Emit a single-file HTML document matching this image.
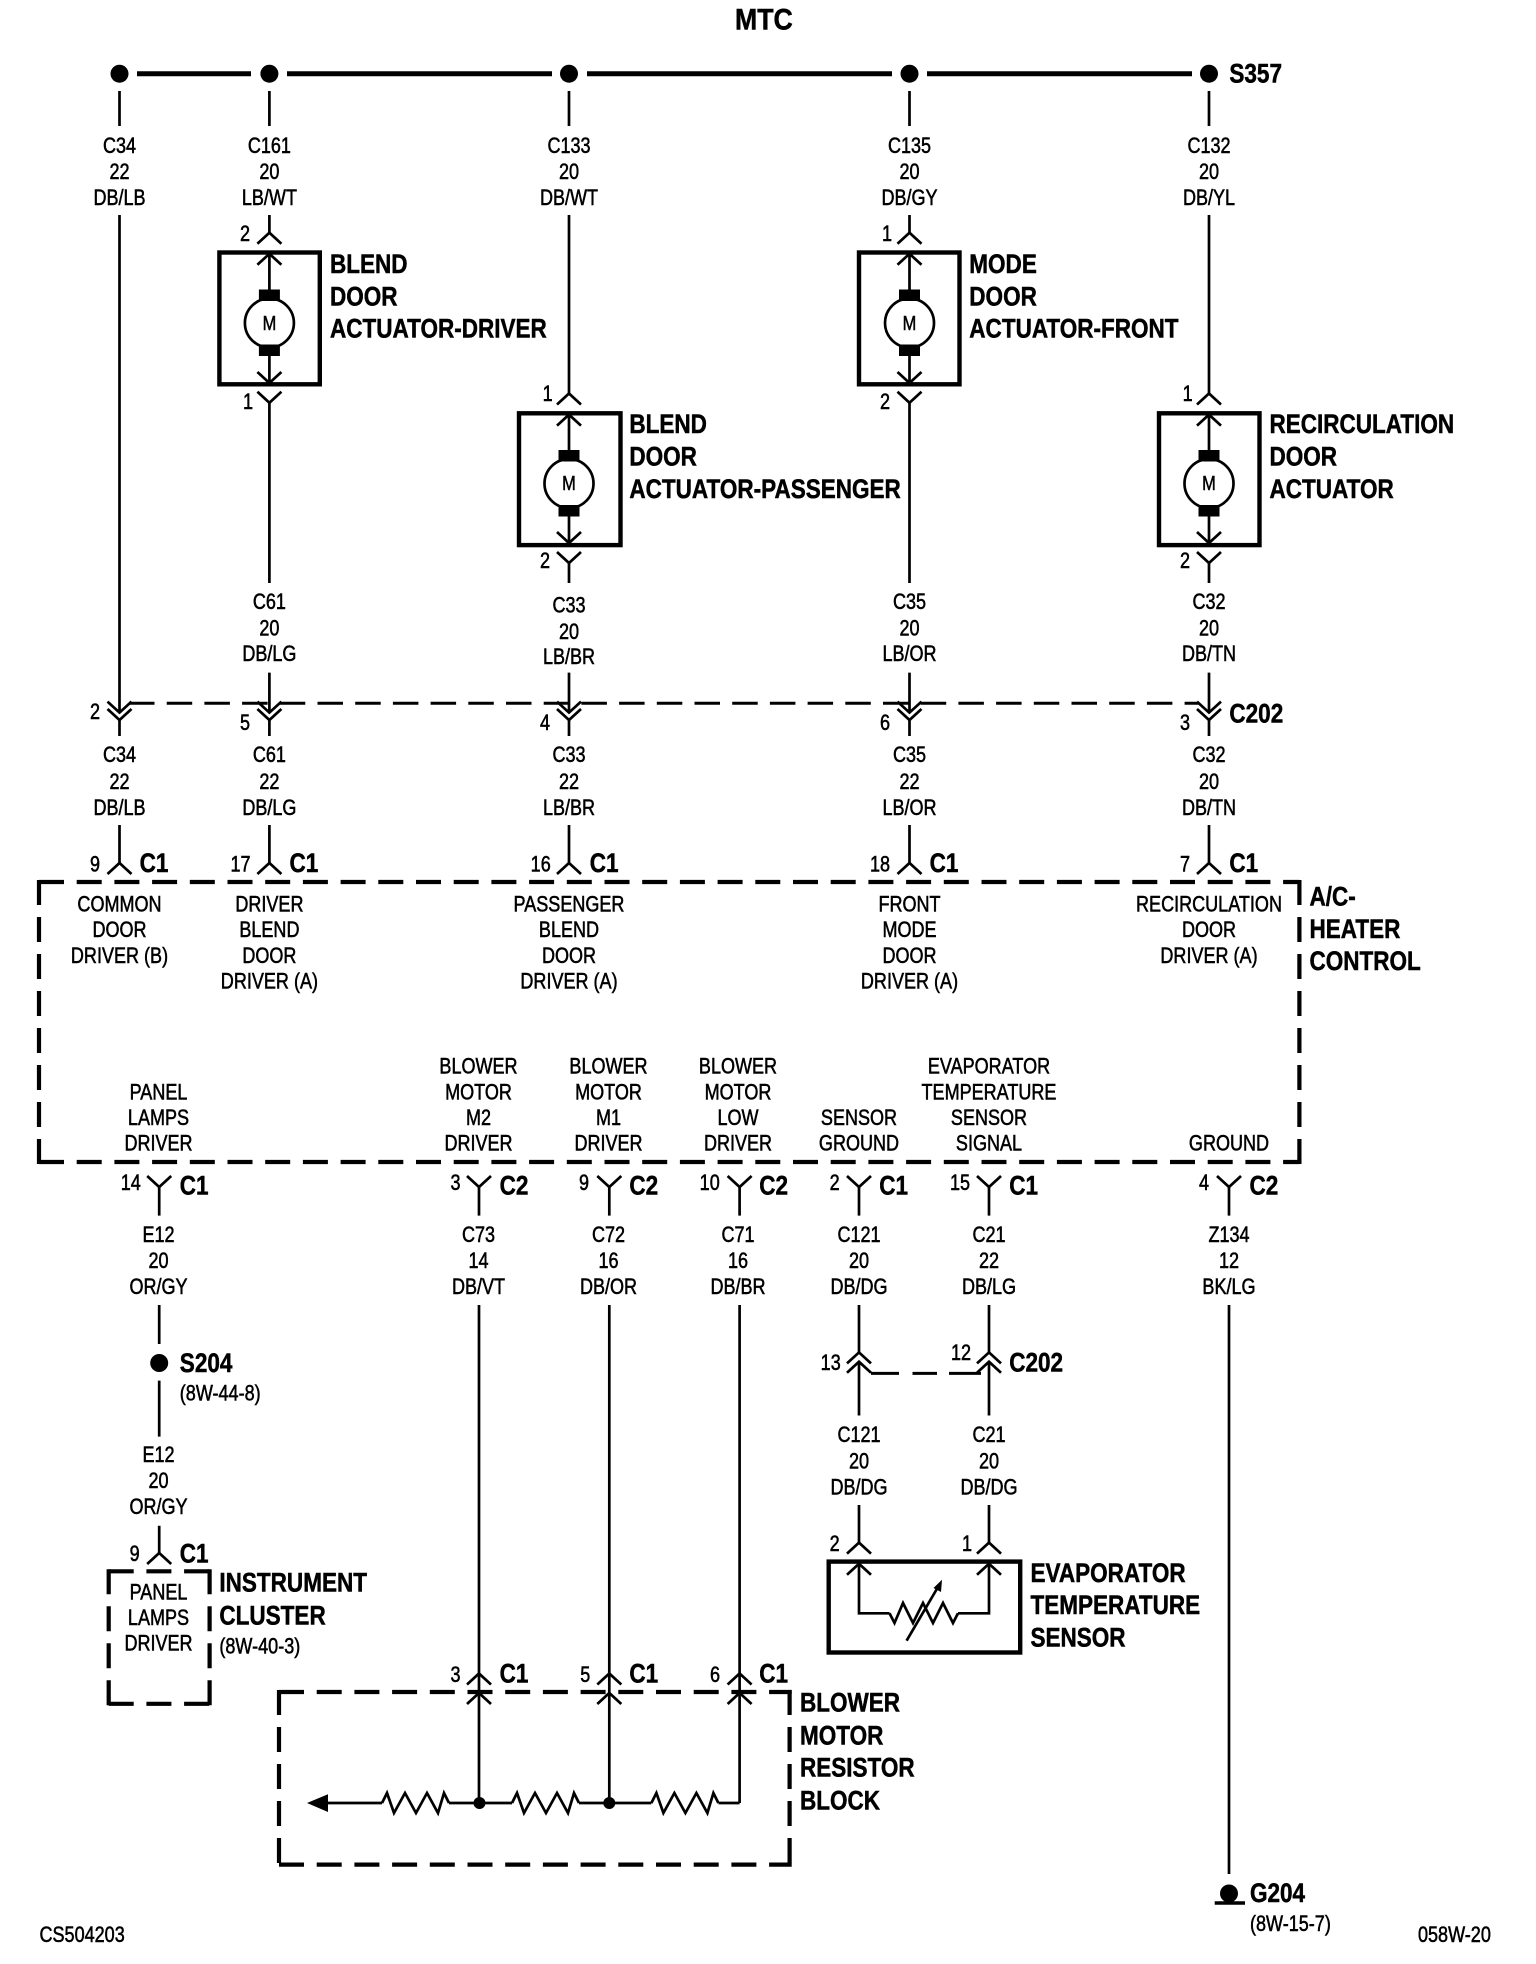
<!DOCTYPE html>
<html><head><meta charset="utf-8"><title>MTC</title>
<style>
html,body{margin:0;padding:0;background:#fff}
svg{display:block}
text{fill:#000;stroke:#000}
.s text{font:22px "Liberation Sans",sans-serif;transform:translateY(-1px) scaleX(.82);text-anchor:middle;stroke-width:.55}
.r text{font:22px "Liberation Sans",sans-serif;transform:translateY(-1px) scaleX(.82);stroke-width:.55}
.b text{font:bold 26.5px "Liberation Sans",sans-serif;transform:translateY(-.7px) scaleX(.85);stroke-width:.5}
.w{fill:none;stroke:#000;stroke-width:2.7}
.t{fill:none;stroke:#000;stroke-width:4.4}
.h{fill:none;stroke:#000;stroke-width:4.2;stroke-dasharray:25 12.7}
.v{fill:none;stroke:#000;stroke-width:4.2;stroke-dasharray:25 12}
</style></head><body>
<svg width="1536" height="1964" viewBox="0 0 1536 1964" xmlns="http://www.w3.org/2000/svg">
<defs>
<path id="u" class="w" d="M-12 11L0 0L12 11"/>
<path id="d" class="w" d="M-12 -11L0 0L12 -11"/>
<path id="z" class="w" d="M0 0L5 -10L12 10L23 -10L34 10L45 -10L56 10L62 -10L67 0"/>
<g id="motor">
<circle r="24.5" fill="#fff" stroke="#000" stroke-width="2.7"/>
<rect x="-10.5" y="-33.5" width="21" height="11.5"/>
<rect x="-10.5" y="21.5" width="21" height="11.5"/>
<path class="w" d="M0 -70V-33M0 33V59"/>
</g>
</defs>

<!-- top bus -->
<path fill="none" stroke="#000" stroke-width="5" d="M137 73.7H251M287 73.7H552M587 73.7H892M927 73.7H1192"/>
<circle cx="119.5" cy="73.7" r="9"/><circle cx="269.4" cy="73.7" r="9"/><circle cx="569" cy="73.7" r="9"/><circle cx="909.5" cy="73.7" r="9"/><circle cx="1209" cy="73.7" r="9"/>

<!-- wires -->
<path class="w" d="M119.5 91V126M269.4 91V126M569 91V126M909.5 91V126M1209 91V126
M119.5 215V712.6
M269.4 215V232.7M269.4 403V583M269.4 672.6V712.6
M569 215V393.5M569 563V583M569 672.6V712.6
M909.5 215V232.7M909.5 403V583M909.5 672.6V712.6
M1209 215V393.5M1209 563V583M1209 672.6V712.6
M119.5 720V736M269.4 720V736M569 720V736M909.5 720V736M1209 720V736
M119.5 825V863M269.4 825V863M569 825V863M909.5 825V863M1209 825V863
M159.2 1187V1215.6M479 1187V1215.6M609.3 1187V1215.6M739.6 1187V1215.6M859 1187V1215.6M989 1187V1215.6M1229 1187V1215.6
M159.2 1305V1344M159.2 1380.6V1436.6M159.2 1525.8V1553
M479 1305V1803M609.3 1305V1803M739.6 1305V1803
M859 1305V1352.4M989 1305V1352.4M859 1361.7V1415.5M989 1361.7V1415.5
M859 1505V1542.6M989 1505V1542.6
M859 1564V1613.3H889.5M989 1564V1613.3H958
M1229 1305V1874
M328 1803H382M449 1803H512M579 1803H651.4M718.5 1803H739.6"/>

<!-- dashed C202 -->
<path fill="none" stroke="#000" stroke-width="3" stroke-dasharray="25.5 12.2" d="M129 703.3H1199"/>
<path fill="none" stroke="#000" stroke-width="3" d="M871 1373.4H899M912.5 1373.4H937M949 1373.4H981"/>

<!-- C202 double connectors -->
<use href="#d" x="119.5" y="712.6"/><use href="#d" x="119.5" y="720"/>
<use href="#d" x="269.4" y="712.6"/><use href="#d" x="269.4" y="720"/>
<use href="#d" x="569" y="712.6"/><use href="#d" x="569" y="720"/>
<use href="#d" x="909.5" y="712.6"/><use href="#d" x="909.5" y="720"/>
<use href="#d" x="1209" y="712.6"/><use href="#d" x="1209" y="720"/>
<use href="#u" x="859" y="1352.4"/><use href="#u" x="859" y="1361.7"/>
<use href="#u" x="989" y="1352.4"/><use href="#u" x="989" y="1361.7"/>

<!-- C1 up connectors -->
<use href="#u" x="119.5" y="863"/><use href="#u" x="269.4" y="863"/><use href="#u" x="569" y="863"/><use href="#u" x="909.5" y="863"/><use href="#u" x="1209" y="863"/>
<!-- lower Y connectors -->
<use href="#d" x="159.2" y="1187"/><use href="#d" x="479" y="1187"/><use href="#d" x="609.3" y="1187"/><use href="#d" x="739.6" y="1187"/><use href="#d" x="859" y="1187"/><use href="#d" x="989" y="1187"/><use href="#d" x="1229" y="1187"/>
<use href="#u" x="159.2" y="1553"/>
<use href="#u" x="479" y="1673.5"/><use href="#u" x="609.3" y="1673.5"/><use href="#u" x="739.6" y="1673.5"/>
<use href="#u" x="479" y="1693"/><use href="#u" x="609.3" y="1693"/><use href="#u" x="739.6" y="1693"/>
<use href="#u" x="859" y="1542.6"/><use href="#u" x="989" y="1542.6"/>
<use href="#u" x="859" y="1563.7"/><use href="#u" x="989" y="1563.7"/>

<!-- actuator boxes -->
<rect class="t" x="219.4" y="252.5" width="100.4" height="131.8"/>
<rect class="t" x="519" y="413.3" width="101.5" height="131.8"/>
<rect class="t" x="859" y="252.5" width="100.5" height="131.8"/>
<rect class="t" x="1159" y="413.3" width="100.5" height="131.8"/>
<use href="#motor" x="269.4" y="323"/><use href="#motor" x="569" y="483.5"/><use href="#motor" x="909.5" y="323"/><use href="#motor" x="1209" y="483.5"/>
<use href="#u" x="269.4" y="232.7"/><use href="#u" x="269.4" y="253.8"/><use href="#d" x="269.4" y="383"/><use href="#d" x="269.4" y="402.8"/>
<use href="#u" x="909.5" y="232.7"/><use href="#u" x="909.5" y="253.8"/><use href="#d" x="909.5" y="383"/><use href="#d" x="909.5" y="402.8"/>
<use href="#u" x="569" y="393.5"/><use href="#u" x="569" y="414.6"/><use href="#d" x="569" y="543"/><use href="#d" x="569" y="563"/>
<use href="#u" x="1209" y="393.5"/><use href="#u" x="1209" y="414.6"/><use href="#d" x="1209" y="543"/><use href="#d" x="1209" y="563"/>
<g class="s"><g transform="translate(269.4)"><text y="331" style="font-size:20px">M</text></g><g transform="translate(569)"><text y="491" style="font-size:20px">M</text></g><g transform="translate(909.5)"><text y="331" style="font-size:20px">M</text></g><g transform="translate(1209)"><text y="491" style="font-size:20px">M</text></g></g>

<!-- A/C heater control dashed box -->
<path class="h" d="M39 882H1299.4M39 1162H1299.4"/>
<path class="v" d="M39 880V1164M1299.4 880V1164"/>
<!-- instrument cluster dashed -->
<path class="h" d="M108.7 1571.3H211.7M108.7 1703.8H211.7"/>
<path class="v" d="M108.7 1569.3V1706M209.6 1569.3V1706"/>
<!-- resistor block dashed -->
<path class="h" d="M279 1692H791.7M279 1864.6H791.7"/>
<path class="v" d="M279 1690V1867M789.6 1690V1867"/>
<!-- resistors -->
<polygon points="307,1803 328,1794.3 328,1812"/>
<use href="#z" x="382" y="1803"/><use href="#z" x="512" y="1803"/><use href="#z" x="651.4" y="1803"/>
<circle cx="479.5" cy="1803" r="6"/><circle cx="609.3" cy="1803" r="6"/>
<!-- S204 -->
<circle cx="159.2" cy="1363" r="9"/>
<!-- evap sensor -->
<rect class="t" x="828.7" y="1561.6" width="191.5" height="90.9"/>
<path class="w" d="M889.5 1613.3L894.5 1623L903 1603L913 1623L923 1603L933 1623L943 1603L953 1623L958 1613.3"/>
<path class="w" d="M906.6 1640.7L938 1587"/>
<polygon points="942,1579.7 941,1592 933.5,1588"/>
<!-- ground -->
<circle cx="1229" cy="1893.5" r="9"/>
<path fill="none" stroke="#000" stroke-width="3.5" d="M1214.7 1903H1245"/>

<!-- wire labels -->
<g class="s">
<g transform="translate(119.5)"><text y="154">C34</text><text y="180">22</text><text y="206">DB/LB</text><text y="763">C34</text><text y="790">22</text><text y="816">DB/LB</text><text y="912.5">COMMON</text><text y="938">DOOR</text><text y="964">DRIVER (B)</text></g>
<g transform="translate(269.4)"><text y="154">C161</text><text y="180">20</text><text y="206">LB/WT</text><text y="610">C61</text><text y="636.5">20</text><text y="662">DB/LG</text><text y="763">C61</text><text y="790">22</text><text y="816">DB/LG</text><text y="912.5">DRIVER</text><text y="938">BLEND</text><text y="964">DOOR</text><text y="989.5">DRIVER (A)</text></g>
<g transform="translate(569)"><text y="154">C133</text><text y="180">20</text><text y="206">DB/WT</text><text y="613.6">C33</text><text y="640">20</text><text y="665">LB/BR</text><text y="763">C33</text><text y="790">22</text><text y="816">LB/BR</text><text y="912.5">PASSENGER</text><text y="938">BLEND</text><text y="964">DOOR</text><text y="989.5">DRIVER (A)</text></g>
<g transform="translate(909.5)"><text y="154">C135</text><text y="180">20</text><text y="206">DB/GY</text><text y="610">C35</text><text y="636.5">20</text><text y="662">LB/OR</text><text y="763">C35</text><text y="790">22</text><text y="816">LB/OR</text><text y="912.5">FRONT</text><text y="938">MODE</text><text y="964">DOOR</text><text y="989.5">DRIVER (A)</text></g>
<g transform="translate(1209)"><text y="154">C132</text><text y="180">20</text><text y="206">DB/YL</text><text y="610">C32</text><text y="636.5">20</text><text y="662">DB/TN</text><text y="763">C32</text><text y="790">20</text><text y="816">DB/TN</text><text y="912.5">RECIRCULATION</text><text y="938">DOOR</text><text y="964">DRIVER (A)</text></g>

<g transform="translate(158.5)"><text y="1100.7">PANEL</text><text y="1126">LAMPS</text><text y="1151.6">DRIVER</text><text y="1243">E12</text><text y="1269">20</text><text y="1295">OR/GY</text><text y="1463">E12</text><text y="1489">20</text><text y="1515">OR/GY</text><text y="1600.7">PANEL</text><text y="1626">LAMPS</text><text y="1651.6">DRIVER</text></g>
<g transform="translate(478.5)"><text y="1074.6">BLOWER</text><text y="1100.7">MOTOR</text><text y="1126">M2</text><text y="1151.6">DRIVER</text><text y="1243">C73</text><text y="1269">14</text><text y="1295">DB/VT</text></g>
<g transform="translate(608.5)"><text y="1074.6">BLOWER</text><text y="1100.7">MOTOR</text><text y="1126">M1</text><text y="1151.6">DRIVER</text><text y="1243">C72</text><text y="1269">16</text><text y="1295">DB/OR</text></g>
<g transform="translate(738)"><text y="1074.6">BLOWER</text><text y="1100.7">MOTOR</text><text y="1126">LOW</text><text y="1151.6">DRIVER</text><text y="1243">C71</text><text y="1269">16</text><text y="1295">DB/BR</text></g>
<g transform="translate(859)"><text y="1126">SENSOR</text><text y="1151.6">GROUND</text><text y="1243">C121</text><text y="1269">20</text><text y="1295">DB/DG</text><text y="1443">C121</text><text y="1469.4">20</text><text y="1495.5">DB/DG</text></g>
<g transform="translate(989)"><text y="1074.6">EVAPORATOR</text><text y="1100.7">TEMPERATURE</text><text y="1126">SENSOR</text><text y="1151.6">SIGNAL</text><text y="1243">C21</text><text y="1269">22</text><text y="1295">DB/LG</text><text y="1443">C21</text><text y="1469.4">20</text><text y="1495.5">DB/DG</text></g>
<g transform="translate(1229)"><text y="1151.6">GROUND</text><text y="1243">Z134</text><text y="1269">12</text><text y="1295">BK/LG</text></g>

<!-- pin numbers -->
<g transform="translate(245)"><text y="242">2</text><text y="731">5</text></g>
<g transform="translate(248)"><text y="410">1</text></g>
<g transform="translate(547.6)"><text y="402">1</text></g>
<g transform="translate(545)"><text y="569">2</text><text y="731">4</text></g>
<g transform="translate(887)"><text y="242">1</text></g>
<g transform="translate(885)"><text y="410">2</text><text y="731">6</text></g>
<g transform="translate(1187.7)"><text y="402">1</text></g>
<g transform="translate(1185)"><text y="569">2</text><text y="731">3</text><text y="872.5">7</text></g>
<g transform="translate(95)"><text y="720">2</text><text y="872.5">9</text></g>
<g transform="translate(240.5)"><text y="872.5">17</text></g>
<g transform="translate(540.7)"><text y="872.5">16</text></g>
<g transform="translate(880)"><text y="872.5">18</text></g>
<g transform="translate(130.8)"><text y="1191">14</text></g>
<g transform="translate(455.5)"><text y="1191">3</text><text y="1683">3</text></g>
<g transform="translate(584)"><text y="1191">9</text></g>
<g transform="translate(585.3)"><text y="1683">5</text></g>
<g transform="translate(709.7)"><text y="1191">10</text></g>
<g transform="translate(715)"><text y="1683">6</text></g>
<g transform="translate(834.6)"><text y="1191">2</text><text y="1552">2</text></g>
<g transform="translate(960)"><text y="1191">15</text></g>
<g transform="translate(1204)"><text y="1191">4</text></g>
<g transform="translate(830.7)"><text y="1371">13</text></g>
<g transform="translate(961)"><text y="1361">12</text></g>
<g transform="translate(967)"><text y="1552">1</text></g>
<g transform="translate(134.7)"><text y="1562">9</text></g>
</g>

<!-- small left aligned -->
<g class="r">
<g transform="translate(179.8)"><text y="1401.6">(8W-44-8)</text></g>
<g transform="translate(219.4)"><text y="1654.6">(8W-40-3)</text></g>
<g transform="translate(1250)"><text y="1932">(8W-15-7)</text></g>
<g transform="translate(39.5)"><text y="1943">CS504203</text></g>
<g transform="translate(1418)"><text y="1943">058W-20</text></g>
</g>

<!-- bold -->
<g class="b">
<g transform="translate(735)"><text y="30" style="font-size:30px;transform:translateY(-.7px) scaleX(.89)">MTC</text></g>
<g transform="translate(1229.4)"><text y="83.3">S357</text><text y="723">C202</text><text y="872.5">C1</text></g>
<g transform="translate(330)"><text y="273.6">BLEND</text><text y="306">DOOR</text><text y="338">ACTUATOR-DRIVER</text></g>
<g transform="translate(629.4)"><text y="433.5">BLEND</text><text y="466">DOOR</text><text y="498.7">ACTUATOR-PASSENGER</text></g>
<g transform="translate(969.3)"><text y="273.6">MODE</text><text y="306">DOOR</text><text y="338">ACTUATOR-FRONT</text></g>
<g transform="translate(1269.5)"><text y="433.5">RECIRCULATION</text><text y="466">DOOR</text><text y="498.7">ACTUATOR</text></g>
<g transform="translate(1309.5)"><text y="906">A/C-</text><text y="938.6">HEATER</text><text y="970.6">CONTROL</text></g>
<g transform="translate(139.6)"><text y="872.5">C1</text></g>
<g transform="translate(289.5)"><text y="872.5">C1</text></g>
<g transform="translate(589.7)"><text y="872.5">C1</text></g>
<g transform="translate(929.6)"><text y="872.5">C1</text></g>
<g transform="translate(179.8)"><text y="1195.3">C1</text><text y="1372.6">S204</text><text y="1563">C1</text></g>
<g transform="translate(499.6)"><text y="1195.3">C2</text><text y="1683">C1</text></g>
<g transform="translate(629.4)"><text y="1195.3">C2</text><text y="1683">C1</text></g>
<g transform="translate(759.2)"><text y="1195.3">C2</text><text y="1683">C1</text></g>
<g transform="translate(879.2)"><text y="1195.3">C1</text></g>
<g transform="translate(1009.2)"><text y="1195.3">C1</text><text y="1372">C202</text></g>
<g transform="translate(1249.5)"><text y="1195.3">C2</text></g>
<g transform="translate(219.4)"><text y="1592.3">INSTRUMENT</text><text y="1625">CLUSTER</text></g>
<g transform="translate(1030.5)"><text y="1582.6">EVAPORATOR</text><text y="1614.6">TEMPERATURE</text><text y="1647">SENSOR</text></g>
<g transform="translate(800)"><text y="1712">BLOWER</text><text y="1745">MOTOR</text><text y="1777">RESISTOR</text><text y="1810">BLOCK</text></g>
<g transform="translate(1250)"><text y="1902.5">G204</text></g>
</g>
</svg>
</body></html>
